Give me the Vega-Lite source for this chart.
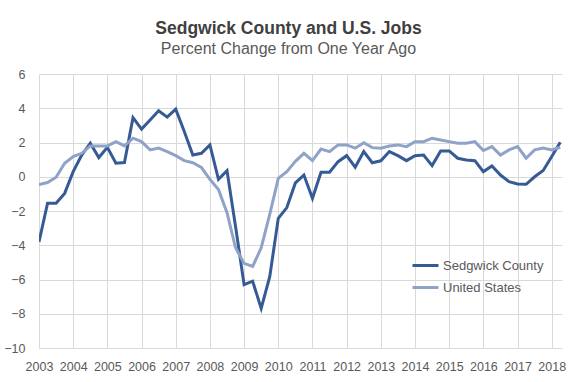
{
  "$schema": "https://vega.github.io/schema/vega-lite/v6.json",
  "width": 523,
  "height": 274,
  "autosize": "none",
  "padding": {"left": 39, "top": 74, "right": 14, "bottom": 34},
  "background": "white",
  "config": {
    "font": "Liberation Sans",
    "view": {"stroke": null},
    "axis": {"gridColor": "#d9d9d9", "gridWidth": 1, "domain": false, "ticks": false, "labelColor": "#595959", "labelFontSize": 12.5, "labelFont": "Liberation Sans"}
  },
  "title": {
    "text": "Sedgwick County and U.S. Jobs",
    "subtitle": "Percent Change from One Year Ago",
    "anchor": "middle",
    "dx": -12,
    "fontSize": 17.5,
    "fontWeight": "bold",
    "color": "#404040",
    "subtitleFontSize": 16,
    "subtitleColor": "#595959",
    "subtitlePadding": 4,
    "offset": 11
  },
  "data": {"values": [
    {"q": 2003.00, "s": "Sedgwick County", "v": -3.8},
    {"q": 2003.25, "s": "Sedgwick County", "v": -1.55},
    {"q": 2003.50, "s": "Sedgwick County", "v": -1.55},
    {"q": 2003.75, "s": "Sedgwick County", "v": -0.97},
    {"q": 2004.00, "s": "Sedgwick County", "v": 0.3},
    {"q": 2004.25, "s": "Sedgwick County", "v": 1.27},
    {"q": 2004.50, "s": "Sedgwick County", "v": 1.96},
    {"q": 2004.75, "s": "Sedgwick County", "v": 1.12},
    {"q": 2005.00, "s": "Sedgwick County", "v": 1.72},
    {"q": 2005.25, "s": "Sedgwick County", "v": 0.79},
    {"q": 2005.50, "s": "Sedgwick County", "v": 0.83},
    {"q": 2005.75, "s": "Sedgwick County", "v": 3.45},
    {"q": 2006.00, "s": "Sedgwick County", "v": 2.78},
    {"q": 2006.25, "s": "Sedgwick County", "v": 3.32},
    {"q": 2006.50, "s": "Sedgwick County", "v": 3.85},
    {"q": 2006.75, "s": "Sedgwick County", "v": 3.48},
    {"q": 2007.00, "s": "Sedgwick County", "v": 3.95},
    {"q": 2007.25, "s": "Sedgwick County", "v": 2.64},
    {"q": 2007.50, "s": "Sedgwick County", "v": 1.27},
    {"q": 2007.75, "s": "Sedgwick County", "v": 1.37},
    {"q": 2008.00, "s": "Sedgwick County", "v": 1.86},
    {"q": 2008.25, "s": "Sedgwick County", "v": -0.15},
    {"q": 2008.50, "s": "Sedgwick County", "v": 0.36},
    {"q": 2008.75, "s": "Sedgwick County", "v": -2.9},
    {"q": 2009.00, "s": "Sedgwick County", "v": -6.3},
    {"q": 2009.25, "s": "Sedgwick County", "v": -6.1},
    {"q": 2009.50, "s": "Sedgwick County", "v": -7.69},
    {"q": 2009.75, "s": "Sedgwick County", "v": -5.84},
    {"q": 2010.00, "s": "Sedgwick County", "v": -2.43},
    {"q": 2010.25, "s": "Sedgwick County", "v": -1.8},
    {"q": 2010.50, "s": "Sedgwick County", "v": -0.36},
    {"q": 2010.75, "s": "Sedgwick County", "v": 0.1},
    {"q": 2011.00, "s": "Sedgwick County", "v": -1.26},
    {"q": 2011.25, "s": "Sedgwick County", "v": 0.26},
    {"q": 2011.50, "s": "Sedgwick County", "v": 0.26},
    {"q": 2011.75, "s": "Sedgwick County", "v": 0.88},
    {"q": 2012.00, "s": "Sedgwick County", "v": 1.23},
    {"q": 2012.25, "s": "Sedgwick County", "v": 0.56},
    {"q": 2012.50, "s": "Sedgwick County", "v": 1.47},
    {"q": 2012.75, "s": "Sedgwick County", "v": 0.82},
    {"q": 2013.00, "s": "Sedgwick County", "v": 0.93},
    {"q": 2013.25, "s": "Sedgwick County", "v": 1.47},
    {"q": 2013.50, "s": "Sedgwick County", "v": 1.23},
    {"q": 2013.75, "s": "Sedgwick County", "v": 0.94},
    {"q": 2014.00, "s": "Sedgwick County", "v": 1.23},
    {"q": 2014.25, "s": "Sedgwick County", "v": 1.27},
    {"q": 2014.50, "s": "Sedgwick County", "v": 0.65},
    {"q": 2014.75, "s": "Sedgwick County", "v": 1.51},
    {"q": 2015.00, "s": "Sedgwick County", "v": 1.51},
    {"q": 2015.25, "s": "Sedgwick County", "v": 1.08},
    {"q": 2015.50, "s": "Sedgwick County", "v": 0.98},
    {"q": 2015.75, "s": "Sedgwick County", "v": 0.94},
    {"q": 2016.00, "s": "Sedgwick County", "v": 0.3},
    {"q": 2016.25, "s": "Sedgwick County", "v": 0.63},
    {"q": 2016.50, "s": "Sedgwick County", "v": 0.1},
    {"q": 2016.75, "s": "Sedgwick County", "v": -0.29},
    {"q": 2017.00, "s": "Sedgwick County", "v": -0.42},
    {"q": 2017.25, "s": "Sedgwick County", "v": -0.44},
    {"q": 2017.50, "s": "Sedgwick County", "v": 0.0},
    {"q": 2017.75, "s": "Sedgwick County", "v": 0.36},
    {"q": 2018.00, "s": "Sedgwick County", "v": 1.18},
    {"q": 2018.25, "s": "Sedgwick County", "v": 2.02},
    {"q": 2003.00, "s": "United States", "v": -0.45},
    {"q": 2003.25, "s": "United States", "v": -0.34},
    {"q": 2003.50, "s": "United States", "v": -0.03},
    {"q": 2003.75, "s": "United States", "v": 0.79},
    {"q": 2004.00, "s": "United States", "v": 1.18},
    {"q": 2004.25, "s": "United States", "v": 1.37},
    {"q": 2004.50, "s": "United States", "v": 1.8},
    {"q": 2004.75, "s": "United States", "v": 1.8},
    {"q": 2005.00, "s": "United States", "v": 1.8},
    {"q": 2005.25, "s": "United States", "v": 2.05},
    {"q": 2005.50, "s": "United States", "v": 1.8},
    {"q": 2005.75, "s": "United States", "v": 2.25},
    {"q": 2006.00, "s": "United States", "v": 2.05},
    {"q": 2006.25, "s": "United States", "v": 1.57},
    {"q": 2006.50, "s": "United States", "v": 1.67},
    {"q": 2006.75, "s": "United States", "v": 1.47},
    {"q": 2007.00, "s": "United States", "v": 1.23},
    {"q": 2007.25, "s": "United States", "v": 0.94},
    {"q": 2007.50, "s": "United States", "v": 0.82},
    {"q": 2007.75, "s": "United States", "v": 0.55},
    {"q": 2008.00, "s": "United States", "v": -0.15},
    {"q": 2008.25, "s": "United States", "v": -0.74},
    {"q": 2008.50, "s": "United States", "v": -2.1},
    {"q": 2008.75, "s": "United States", "v": -4.15},
    {"q": 2009.00, "s": "United States", "v": -5.06},
    {"q": 2009.25, "s": "United States", "v": -5.24},
    {"q": 2009.50, "s": "United States", "v": -4.15},
    {"q": 2009.75, "s": "United States", "v": -2.2},
    {"q": 2010.00, "s": "United States", "v": -0.09},
    {"q": 2010.25, "s": "United States", "v": 0.3},
    {"q": 2010.50, "s": "United States", "v": 0.9},
    {"q": 2010.75, "s": "United States", "v": 1.37},
    {"q": 2011.00, "s": "United States", "v": 0.94},
    {"q": 2011.25, "s": "United States", "v": 1.62},
    {"q": 2011.50, "s": "United States", "v": 1.47},
    {"q": 2011.75, "s": "United States", "v": 1.86},
    {"q": 2012.00, "s": "United States", "v": 1.86},
    {"q": 2012.25, "s": "United States", "v": 1.67},
    {"q": 2012.50, "s": "United States", "v": 1.99},
    {"q": 2012.75, "s": "United States", "v": 1.7},
    {"q": 2013.00, "s": "United States", "v": 1.67},
    {"q": 2013.25, "s": "United States", "v": 1.8},
    {"q": 2013.50, "s": "United States", "v": 1.86},
    {"q": 2013.75, "s": "United States", "v": 1.76},
    {"q": 2014.00, "s": "United States", "v": 2.05},
    {"q": 2014.25, "s": "United States", "v": 2.05},
    {"q": 2014.50, "s": "United States", "v": 2.25},
    {"q": 2014.75, "s": "United States", "v": 2.15},
    {"q": 2015.00, "s": "United States", "v": 2.05},
    {"q": 2015.25, "s": "United States", "v": 1.96},
    {"q": 2015.50, "s": "United States", "v": 1.96},
    {"q": 2015.75, "s": "United States", "v": 2.05},
    {"q": 2016.00, "s": "United States", "v": 1.53},
    {"q": 2016.25, "s": "United States", "v": 1.76},
    {"q": 2016.50, "s": "United States", "v": 1.27},
    {"q": 2016.75, "s": "United States", "v": 1.57},
    {"q": 2017.00, "s": "United States", "v": 1.76},
    {"q": 2017.25, "s": "United States", "v": 1.08},
    {"q": 2017.50, "s": "United States", "v": 1.57},
    {"q": 2017.75, "s": "United States", "v": 1.67},
    {"q": 2018.00, "s": "United States", "v": 1.57},
    {"q": 2018.25, "s": "United States", "v": 1.72}
  ]},
  "mark": {"type": "line", "strokeWidth": 3, "strokeJoin": "miter", "clip": true},
  "encoding": {
    "x": {
      "field": "q", "type": "quantitative",
      "scale": {"domain": [2003, 2018.3], "nice": false, "zero": false},
      "axis": {"title": null, "values": [2003,2004,2005,2006,2007,2008,2009,2010,2011,2012,2013,2014,2015,2016,2017,2018], "format": "d", "labelPadding": 12, "labelFlush": false}
    },
    "y": {
      "field": "v", "type": "quantitative",
      "scale": {"domain": [-10, 6], "nice": false},
      "axis": {"title": null, "values": [-10,-8,-6,-4,-2,0,2,4,6], "labelPadding": 14}
    },
    "color": {
      "field": "s", "type": "nominal",
      "scale": {"domain": ["Sedgwick County", "United States"], "range": ["#365b94", "#8fa2c8"]},
      "legend": {
        "title": null, "orient": "none", "legendX": 372, "legendY": 177,
        "symbolType": "stroke", "symbolSize": 676, "symbolStrokeWidth": 3,
        "labelFontSize": 13, "labelColor": "#595959", "labelOffset": 3, "rowPadding": -1
      }
    }
  }
}
